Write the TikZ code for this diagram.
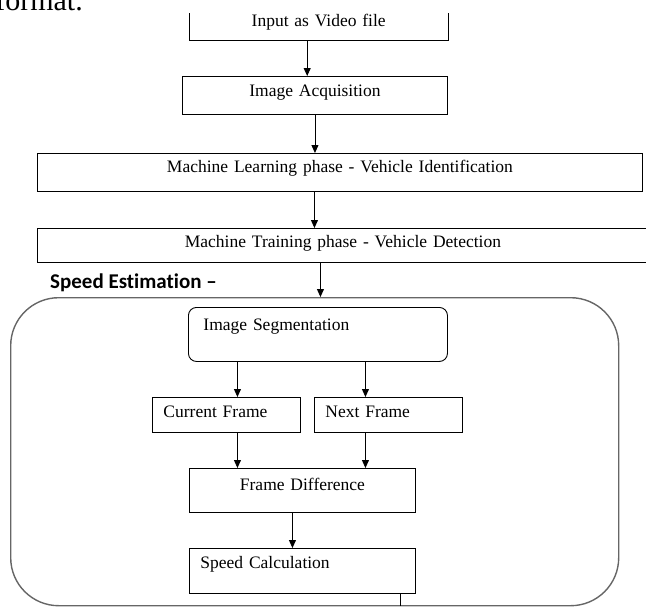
\documentclass[tikz,border=0pt]{standalone}
\usepackage{fontspec}
\setmainfont{Liberation Serif}
\newfontfamily\calib[Ligatures=NoCommon]{Carlito}
\usetikzlibrary{arrows.meta,calc}
\tikzset{
  box/.style={draw=black, line width=0.9pt, inner sep=0pt, anchor=north west,
    font=\fontsize{17.5pt}{20pt}\selectfont},
  nobox/.style={inner sep=0pt, anchor=north west, font=\fontsize{17.5pt}{20pt}\selectfont},
  arr/.style={line width=0.9pt, -{Triangle[length=8pt,width=7pt]}},
  plain/.style={line width=0.9pt},
}
\begin{document}
\begin{tikzpicture}[x=1pt,y=-1pt]
\useasboundingbox (0,0) rectangle (646,606);
\clip (0,0) rectangle (646,606);
% cut-off page text
\node[anchor=base east, inner sep=0pt, font=\fontsize{30pt}{36pt}\selectfont] (fmt) at (83,10) {format.};
% Input box (top cut off)
\node[nobox, text width=259pt, align=center, text height=13pt, text depth=14pt] (in) at (189,13) {Input as Video file};
\draw[plain] (in.north west) -- (in.south west) -- (in.south east) -- (in.north east);
% Image acquisition
\node[box, text width=265pt, align=center, text height=20pt, text depth=18pt] (ia) at (182,76) {Image Acquisition};
% ML
\node[box, text width=605pt, align=center, text height=19pt, text depth=19pt] (ml) at (37,153) {Machine Learning phase - Vehicle Identification};
% MT
\node[box, text width=611pt, align=center, text height=19pt, text depth=15pt] (mt) at (37,228) {Machine Training phase - Vehicle Detection};
% Speed estimation container
\node[draw=black!60, line width=1.4pt, rounded corners=48pt, inner sep=0pt, anchor=north west,
      minimum width=608pt, minimum height=308pt] (se) at (10,297) {};
\node[anchor=base west, inner sep=0pt, font=\calib\bfseries\fontsize{21pt}{25pt}\selectfont] (setitle) at (50,288) {Speed Estimation –};
% inner boxes
\node[box, rounded corners=8pt, inner xsep=15pt, text width=229pt, align=left, text height=23pt, text depth=31pt] (seg) at (188,307) {Image Segmentation};
\node[box, inner xsep=11pt, text width=126pt, align=left, text height=20pt, text depth=15pt] (cf) at (152,397) {Current Frame};
\node[box, inner xsep=11pt, text width=126pt, align=left, text height=20pt, text depth=15pt] (nf) at (314,397) {Next Frame};
\node[box, text width=226pt, align=center, text height=22pt, text depth=22pt] (fd) at (189,468) {Frame Difference};
\node[box, inner xsep=11pt, text width=204pt, align=left, text height=20pt, text depth=25pt] (sc) at (189,548) {Speed Calculation};
\coordinate (scend) at (400,606);
% connectors
\draw[arr] ([xshift=-11.5pt]in.south) -- ([xshift=-11.5pt]in.south |- ia.north);
\draw[arr] (ia.south) -- (ia.south |- ml.north);
\draw[arr] ([xshift=-25.5pt]ml.south) -- ([xshift=-25.5pt]ml.south |- mt.north);
\draw[arr] ([xshift=-22.5pt]mt.south) -- ([xshift=-22.5pt]mt.south |- se.north);
\draw[arr] ([xshift=-80.5pt]seg.south) -- ([xshift=-80.5pt]seg.south |- cf.north);
\draw[arr] ([xshift=47.5pt]seg.south) -- ([xshift=47.5pt]seg.south |- nf.north);
\draw[arr] ([xshift=11pt]cf.south) -- ([xshift=11pt]cf.south |- fd.north);
\draw[arr] ([xshift=-23pt]nf.south) -- ([xshift=-23pt]nf.south |- fd.north);
\draw[arr] ([xshift=-10pt]fd.south) -- ([xshift=-10pt]fd.south |- sc.north);
\draw[plain] (sc.south -| scend) -- (scend);
\end{tikzpicture}
\end{document}
